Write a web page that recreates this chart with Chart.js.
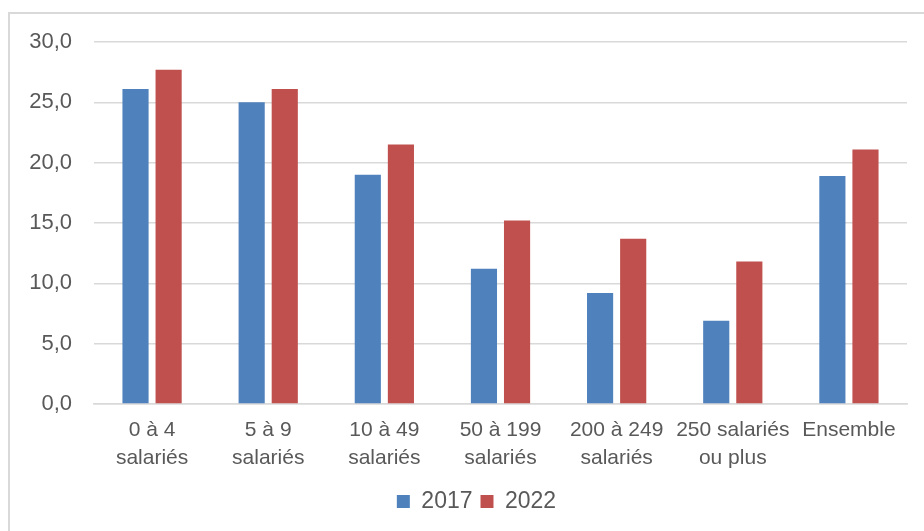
<!DOCTYPE html>
<html>
<head>
<meta charset="utf-8">
<script src="https://cdn.jsdelivr.net/npm/chart.js@4"></script>
<style>
  html, body { margin: 0; padding: 0; background: #fff; overflow: hidden; }
  #frame {
    position: absolute; left: 8px; top: 12px; width: 960px; height: 560px;
    border-left: 2px solid #d9d9d9; border-top: 2px solid #d9d9d9;
  }
  #wrap { position: absolute; left: 0; top: 0; width: 924px; height: 531px; }
</style>
</head>
<body>
<div id="frame"></div>
<div id="wrap"><canvas id="taux"></canvas></div>
<script>
const categories = [
    ['0 à 4', 'salariés'],
    ['5 à 9', 'salariés'],
    ['10 à 49', 'salariés'],
    ['50 à 199', 'salariés'],
    ['200 à 249', 'salariés'],
    ['250 salariés', 'ou plus'],
    'Ensemble'
];
const values2017 = [26.1, 25.0, 19.0, 11.2, 9.2, 6.9, 18.9];
const values2022 = [27.7, 26.1, 21.5, 15.2, 13.7, 11.8, 21.1];
const yTickLabels = ['0,0', '5,0', '10,0', '15,0', '20,0', '25,0', '30,0'];

const grey = '#595959';
const font = 'Liberation Sans, Arial, sans-serif';

// the legend sits a bit right of the canvas centre in the original
const shiftLegend = {
    id: 'shiftLegend',
    afterLayout(chart) {
        chart.legend.left += 46;
    }
};

const ctx = document.getElementById('taux').getContext('2d');
const chart = new Chart(ctx, {
    type: 'bar',
    data: {
        labels: categories,
        datasets: [{
            label: '2017',
            data: values2017,
            backgroundColor: '#4F81BD',
            categoryPercentage: 0.57,
            barPercentage: 0.79
        }, {
            label: '2022',
            data: values2022,
            backgroundColor: '#C0504D',
            categoryPercentage: 0.57,
            barPercentage: 0.79
        }]
    },
    plugins: [shiftLegend],
    options: {
        responsive: true,
        maintainAspectRatio: false,
        animation: false,
        layout: {
            padding: { left: 0, right: 17, top: 42, bottom: 8 }
        },
        plugins: {
            legend: {
                position: 'bottom',
                labels: {
                    boxWidth: 13,
                    boxHeight: 13,
                    padding: 8,
                    color: grey,
                    font: { family: font, size: 23 }
                }
            },
            tooltip: { enabled: false }
        },
        scales: {
            x: {
                grid: { display: false, drawTicks: false },
                border: { color: '#d9d9d9', width: 1.5 },
                ticks: {
                    color: grey,
                    padding: 13,
                    maxRotation: 0,
                    autoSkip: false,
                    font: { family: font, size: 21, lineHeight: 1.3 }
                },
                afterFit: function(scale) { scale.height = 78; }
            },
            y: {
                min: 0,
                max: 30,
                grid: { color: '#d9d9d9', lineWidth: 1.5, drawTicks: false },
                border: { display: false },
                ticks: {
                    stepSize: 5,
                    color: grey,
                    padding: 22,
                    font: { family: font, size: 22 },
                    callback: function(value, i) { return yTickLabels[i]; }
                },
                afterFit: function(scale) { scale.width = 94; }
            }
        }
    }
});
</script>
</body>
</html>
